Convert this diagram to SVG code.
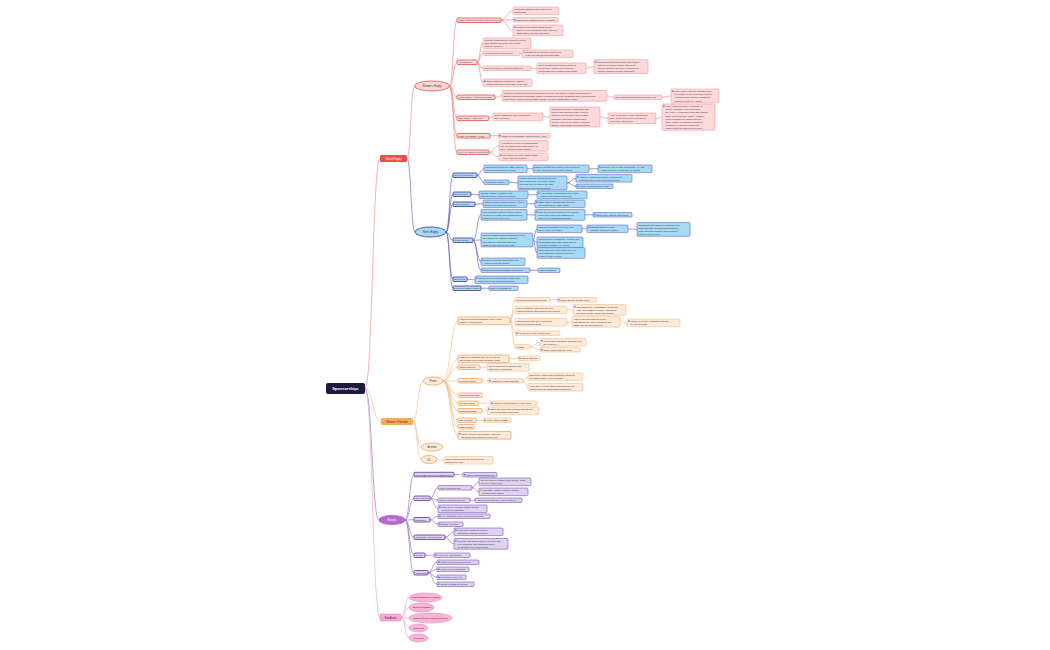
<svg xmlns="http://www.w3.org/2000/svg" width="1050" height="650" viewBox="0 0 1050 650">
<style>
text{font-family:"Liberation Sans",Arial,sans-serif;font-size:2.3px;fill:#333}
.b{stroke-width:.6}
.wr .b{fill:#fddada;stroke:#f29a9a}
.wr .b2{fill:#fddada;stroke:#e84a4a;stroke-width:.8}
.mr .b{fill:#a6dbf6;stroke:#6d5fc4}
.mr .b2{fill:#a6dbf6;stroke:#4a2f9e;stroke-width:.8}
.wf .b{fill:#feead8;stroke:#f7bb85}
.wf .b2{fill:#feead8;stroke:#f3a660;stroke-width:.8}
.ev .b{fill:#ded2f0;stroke:#7a55b5}
.ev .b2{fill:#ded2f0;stroke:#5d3597;stroke-width:.8}
.fb .b{fill:#f8b3d7;stroke:#e48fbe;stroke-width:.6}
.ic{fill:#4a7ff0}
.io{fill:#f3a53a}
#connectors path{fill:none;stroke-width:.6}
.cwr{stroke:#f07b7b}
.cmr{stroke:#5e4fb8}
.cwf{stroke:#f6b57c}
.cev{stroke:#8a62c4}
.cfb{stroke:#ee9cc9}
.lab{text-anchor:middle;font-size:2.6px}
</style>
<rect width="1050" height="650" fill="#ffffff"/>
<g id="connectors">
<path class="cwr" d="M365 388.5C372.5 388.5 372.5 158.5 380 158.5"/>
<path class="cwf" d="M365 388.5C373 388.5 373 421.5 381 421.5"/>
<path class="cev" d="M365 388.5C372 388.5 372 520 379 520"/>
<path class="cfb" d="M365 388.5C372.5 388.5 372.5 617.5 380 617.5"/>
<path class="cwr" d="M407 158.5C410.75 158.5 410.75 86 414.5 86"/>
<path class="cmr" d="M407 158.5C411 158.5 411 232 415 232"/>
<path class="cwr" d="M449.5 86C453.25 86 453.25 20.25 457 20.25"/>
<path class="cwr" d="M449.5 86C453.25 86 453.25 62.25 457 62.25"/>
<path class="cwr" d="M449.5 86C453.25 86 453.25 97.25 457 97.25"/>
<path class="cwr" d="M449.5 86C453.25 86 453.25 118.25 457 118.25"/>
<path class="cwr" d="M449.5 86C453.25 86 453.25 135.75 457 135.75"/>
<path class="cwr" d="M449.5 86C453.25 86 453.25 152.25 457 152.25"/>
<path class="cwr" d="M501 20.25C507 20.25 507 10.8 513 10.8"/>
<path class="cwr" d="M501 20.25C507 20.25 507 19.75 513 19.75"/>
<path class="cwr" d="M501 20.25C507 20.25 507 30.35 513 30.35"/>
<path class="cwr" d="M477 62.25C480 62.25 480 43.35 483 43.35"/>
<path class="cwr" d="M477 62.25C480 62.25 480 53.25 483 53.25"/>
<path class="cwr" d="M477 62.25C480 62.25 480 68.25 483 68.25"/>
<path class="cwr" d="M477 62.25C480 62.25 480 82.8 483 82.8"/>
<path class="cwr" d="M520 53.25C521 53.25 521 53.8 522 53.8"/>
<path class="cwr" d="M531 68.25C534 68.25 534 68.35 537 68.35"/>
<path class="cwr" d="M586 68.35C590 68.35 590 66.6 594 66.6"/>
<path class="cwr" d="M495 97.25C498.5 97.25 498.5 95.85 502 95.85"/>
<path class="cwr" d="M607 95.85C610.5 95.85 610.5 97.25 614 97.25"/>
<path class="cwr" d="M662 97.25C666.5 97.25 666.5 96 671 96"/>
<path class="cwr" d="M489 118.25C491 118.25 491 116.8 493 116.8"/>
<path class="cwr" d="M543 116.8C546.5 116.8 546.5 117 550 117"/>
<path class="cwr" d="M600 117C604 117 604 118.35 608 118.35"/>
<path class="cwr" d="M656 118.35C659 118.35 659 117.1 662 117.1"/>
<path class="cwr" d="M490 135.75C494 135.75 494 135.75 498 135.75"/>
<path class="cwr" d="M489 152.25C494 152.25 494 145.85 499 145.85"/>
<path class="cwr" d="M489 152.25C494 152.25 494 156.8 499 156.8"/>
<path class="cmr" d="M446 232C449.5 232 449.5 175.25 453 175.25"/>
<path class="cmr" d="M446 232C449.5 232 449.5 194.25 453 194.25"/>
<path class="cmr" d="M446 232C449.5 232 449.5 204.25 453 204.25"/>
<path class="cmr" d="M446 232C449.5 232 449.5 240.25 453 240.25"/>
<path class="cmr" d="M446 232C449.5 232 449.5 279.25 453 279.25"/>
<path class="cmr" d="M446 232C449.5 232 449.5 288.25 453 288.25"/>
<path class="cmr" d="M477 175.25C480.5 175.25 480.5 168.8 484 168.8"/>
<path class="cmr" d="M477 175.25C480.5 175.25 480.5 182.25 484 182.25"/>
<path class="cmr" d="M527 168.8C530 168.8 530 168.8 533 168.8"/>
<path class="cmr" d="M589 168.8C593.5 168.8 593.5 168.8 598 168.8"/>
<path class="cmr" d="M509 182.25C513.5 182.25 513.5 182.9 518 182.9"/>
<path class="cmr" d="M567 182.9C571.5 182.9 571.5 178.3 576 178.3"/>
<path class="cmr" d="M567 182.9C571.5 182.9 571.5 186.25 576 186.25"/>
<path class="cmr" d="M471 194.25C475 194.25 475 194.8 479 194.8"/>
<path class="cmr" d="M528 194.8C532.5 194.8 532.5 194.8 537 194.8"/>
<path class="cmr" d="M475 204.25C479 204.25 479 203.8 483 203.8"/>
<path class="cmr" d="M527 203.8C531 203.8 531 203.8 535 203.8"/>
<path class="cmr" d="M473 240.25C477 240.25 477 214.85 481 214.85"/>
<path class="cmr" d="M473 240.25C477 240.25 477 240 481 240"/>
<path class="cmr" d="M473 240.25C477 240.25 477 261.8 481 261.8"/>
<path class="cmr" d="M473 240.25C477 240.25 477 270.25 481 270.25"/>
<path class="cmr" d="M527 214.85C531 214.85 531 214.85 535 214.85"/>
<path class="cmr" d="M585 214.85C589 214.85 589 214.75 593 214.75"/>
<path class="cmr" d="M533 240C535 240 535 228.8 537 228.8"/>
<path class="cmr" d="M533 240C535 240 535 242.35 537 242.35"/>
<path class="cmr" d="M533 240C535 240 535 253 537 253"/>
<path class="cmr" d="M582 228.8C584.5 228.8 584.5 228.8 587 228.8"/>
<path class="cmr" d="M628 228.8C632.5 228.8 632.5 229.4 637 229.4"/>
<path class="cmr" d="M530 270.25C534 270.25 534 270.25 538 270.25"/>
<path class="cmr" d="M467 279.25C471 279.25 471 279.8 475 279.8"/>
<path class="cmr" d="M481 288.25C485 288.25 485 288.25 489 288.25"/>
<path class="cwf" d="M413 421.5C418 421.5 418 381 423 381"/>
<path class="cwf" d="M413 421.5C417 421.5 417 447 421 447"/>
<path class="cwf" d="M413 421.5C417 421.5 417 459.5 421 459.5"/>
<path class="cwf" d="M437 459.5C440.5 459.5 440.5 460.3 444 460.3"/>
<path class="cwf" d="M443 381C450.5 381 450.5 320.8 458 320.8"/>
<path class="cwf" d="M443 381C450.5 381 450.5 358.8 458 358.8"/>
<path class="cwf" d="M443 381C450.5 381 450.5 367.25 458 367.25"/>
<path class="cwf" d="M443 381C450.5 381 450.5 380.75 458 380.75"/>
<path class="cwf" d="M443 381C450.5 381 450.5 395.25 458 395.25"/>
<path class="cwf" d="M443 381C450.5 381 450.5 403.25 458 403.25"/>
<path class="cwf" d="M443 381C450.5 381 450.5 410.75 458 410.75"/>
<path class="cwf" d="M443 381C450.5 381 450.5 420.25 458 420.25"/>
<path class="cwf" d="M443 381C450.5 381 450.5 426.75 458 426.75"/>
<path class="cwf" d="M443 381C450.5 381 450.5 435.3 458 435.3"/>
<path class="cwf" d="M510 320.8C512.5 320.8 512.5 299.75 515 299.75"/>
<path class="cwf" d="M510 320.8C512.5 320.8 512.5 309.8 515 309.8"/>
<path class="cwf" d="M510 320.8C512.5 320.8 512.5 322.3 515 322.3"/>
<path class="cwf" d="M510 320.8C512.5 320.8 512.5 333.25 515 333.25"/>
<path class="cwf" d="M510 320.8C512.5 320.8 512.5 346.75 515 346.75"/>
<path class="cwf" d="M550 299.75C553.5 299.75 553.5 299.75 557 299.75"/>
<path class="cwf" d="M567 309.8C570 309.8 570 309.85 573 309.85"/>
<path class="cwf" d="M567 322.3C569.5 322.3 569.5 321.85 572 321.85"/>
<path class="cwf" d="M620 321.85C623.5 321.85 623.5 322.8 627 322.8"/>
<path class="cwf" d="M530 346.75C535 346.75 535 342.3 540 342.3"/>
<path class="cwf" d="M530 346.75C535 346.75 535 349.75 540 349.75"/>
<path class="cwf" d="M509 358.8C513.5 358.8 513.5 358.25 518 358.25"/>
<path class="cwf" d="M480 367.25C483.5 367.25 483.5 367.3 487 367.3"/>
<path class="cwf" d="M482 380.75C485 380.75 485 380.75 488 380.75"/>
<path class="cwf" d="M523 380.75C525.5 380.75 525.5 376.8 528 376.8"/>
<path class="cwf" d="M523 380.75C525.5 380.75 525.5 387.3 528 387.3"/>
<path class="cwf" d="M478 403.25C484 403.25 484 403.25 490 403.25"/>
<path class="cwf" d="M482 410.75C484.5 410.75 484.5 410.8 487 410.8"/>
<path class="cwf" d="M476 420.25C479.5 420.25 479.5 420.25 483 420.25"/>
<path class="cev" d="M405 520C409.5 520 409.5 474.55 414 474.55"/>
<path class="cev" d="M405 520C409.5 520 409.5 498.25 414 498.25"/>
<path class="cev" d="M405 520C409.5 520 409.5 519.75 414 519.75"/>
<path class="cev" d="M405 520C409.5 520 409.5 537.25 414 537.25"/>
<path class="cev" d="M405 520C409.5 520 409.5 555.25 414 555.25"/>
<path class="cev" d="M405 520C409.5 520 409.5 572.75 414 572.75"/>
<path class="cev" d="M454 474.55C458.5 474.55 458.5 474.75 463 474.75"/>
<path class="cev" d="M430 498.25C434 498.25 434 487.75 438 487.75"/>
<path class="cev" d="M430 498.25C434 498.25 434 500.25 438 500.25"/>
<path class="cev" d="M430 498.25C434 498.25 434 508.8 438 508.8"/>
<path class="cev" d="M472 487.75C475.5 487.75 475.5 481.8 479 481.8"/>
<path class="cev" d="M472 487.75C475.5 487.75 475.5 491.8 479 491.8"/>
<path class="cev" d="M470 500.25C472.5 500.25 472.5 500.25 475 500.25"/>
<path class="cev" d="M430 519.75C434 519.75 434 516.25 438 516.25"/>
<path class="cev" d="M430 519.75C434 519.75 434 524.25 438 524.25"/>
<path class="cev" d="M445 537.25C449.5 537.25 449.5 531.8 454 531.8"/>
<path class="cev" d="M445 537.25C449.5 537.25 449.5 543.85 454 543.85"/>
<path class="cev" d="M425 555.25C429.5 555.25 429.5 555.25 434 555.25"/>
<path class="cev" d="M428 572.75C432.5 572.75 432.5 562.25 437 562.25"/>
<path class="cev" d="M428 572.75C432.5 572.75 432.5 569.25 437 569.25"/>
<path class="cev" d="M428 572.75C432.5 572.75 432.5 577.25 437 577.25"/>
<path class="cev" d="M428 572.75C432.5 572.75 432.5 584.25 437 584.25"/>
<path class="cfb" d="M401 617.5C405 617.5 405 597.5 409 597.5"/>
<path class="cfb" d="M401 617.5C405 617.5 405 607.5 409 607.5"/>
<path class="cfb" d="M401 617.5C405 617.5 405 618 409 618"/>
<path class="cfb" d="M401 617.5C405 617.5 405 628 409 628"/>
<path class="cfb" d="M401 617.5C405 617.5 405 638 409 638"/>
</g>

<g id="root"><rect x="326" y="383" width="39" height="11" rx="2" fill="#1d1b3c"/><text x="345.5" y="390" text-anchor="middle" style="font-size:4px;font-weight:bold;fill:#fff">Sponsorships</text></g>

<g id="world-rugby"><rect x="380" y="155" width="27" height="7" rx="1.5" fill="#f24b4b"/><text x="393.5" y="159.5" class="lab" style="font-size:2.8px;fill:#fff">World Rugby</text></g>
<g id="womens-fortitude"><rect x="381" y="418" width="32" height="7" rx="1.5" fill="#f7a95e"/><text x="397" y="422.5" class="lab" style="fill:#5a2e00">Women's Fortitude</text></g>
<g id="events"><ellipse cx="392" cy="520" rx="13" ry="4.6" fill="#b56bd0" stroke="#9a4fbb" stroke-width=".6"/><text x="392" y="521" class="lab" style="font-size:2.8px;fill:#fff">Events</text></g>
<g id="feedback"><rect x="380" y="614" width="21" height="7" rx="1.5" fill="#f6a8d2" stroke="#e48fbe" stroke-width=".6"/><text x="390.5" y="618.5" class="lab" style="fill:#4a2040">Feedback</text></g>

<g id="womens-rugby"><ellipse cx="432" cy="86" rx="17.5" ry="5" fill="#fddada" stroke="#e84a4a" stroke-width=".8"/><text x="432" y="87" class="lab">Women's Rugby</text></g>
<g id="mens-rugby"><ellipse cx="430.5" cy="232" rx="15.5" ry="5" fill="#a6dbf6" stroke="#4a2f9e" stroke-width=".8"/><text x="430.5" y="233" class="lab">Men's Rugby</text></g>

<g id="a1" class="wr"><rect class="b2" x="457" y="18" width="44" height="4.5" rx="1"/><text x="458.4" y="21.2">Rugby World Cup 2025 Women's Series</text></g>
<g id="a1a" class="wr"><rect class="b" x="513" y="7" width="46" height="7.6" rx="1"/><text x="514.4" y="10.2">Messaging approval from host union,<tspan x="514.4" dy="3.1">Dates 2025</tspan></text></g>
<g id="a1b" class="wr"><rect class="b" x="513" y="17.5" width="45" height="4.5" rx="1"/><rect class="ic" x="514.1" y="19" width="1.5" height="1.5"/><text x="516.4" y="20.7">Branding at Women's Super Leagues</text></g>
<g id="a1c" class="wr"><rect class="b" x="513" y="25" width="50" height="10.7" rx="1"/><rect class="ic" x="514.1" y="26.5" width="1.5" height="1.5"/><text x="516.4" y="28.2">Collateral and digital assets for the<tspan x="516.4" dy="3.1">group of venue sponsors (fans, players),</tspan><tspan x="516.4" dy="3.1">awareness of country and dates</tspan></text></g>
<g id="a2" class="wr"><rect class="b2" x="457" y="60" width="20" height="4.5" rx="1"/><text x="458.4" y="63.2">HP Pathways</text></g>
<g id="a2a" class="wr"><rect class="b" x="483" y="38" width="48" height="10.7" rx="1"/><text x="484.4" y="41.2">Promote at sponsored events for players,<tspan x="484.4" dy="3.1">fans and parents at the club events</tspan><tspan x="484.4" dy="3.1">(Link to Academy)</tspan></text></g>
<g id="a2b" class="wr"><rect class="b" x="483" y="51" width="37" height="4.5" rx="1"/><text x="484.4" y="54.2">Leverage wins of the Series</text></g>
<g id="a2b1" class="wr"><rect class="b" x="522" y="50" width="51" height="7.6" rx="1"/><rect class="io" x="523.1" y="51.5" width="1.5" height="1.5"/><text x="525.4" y="53.2">Infomercial for winners, linked to all<tspan x="525.4" dy="3.1">of the Olympic Dream Team 2024</tspan></text></g>
<g id="a2c" class="wr"><rect class="b" x="483" y="66" width="48" height="4.5" rx="1"/><text x="484.4" y="69.2">Partners build on Women's World Cup</text></g>
<g id="a2c1" class="wr"><rect class="b" x="537" y="63" width="49" height="10.7" rx="1"/><text x="538.4" y="66.2">Deals at Business Partners' Brand at<tspan x="538.4" dy="3.1">the Olympic Games and Women's</tspan><tspan x="538.4" dy="3.1">Premiership Development Team 2025</tspan></text></g>
<g id="a2c2" class="wr"><rect class="b" x="594" y="59.7" width="54" height="13.8" rx="1"/><rect class="ic" x="595.1" y="61.2" width="1.5" height="1.5"/><text x="597.4" y="62.9">Tournament has partnership with leading<tspan x="597.4" dy="3.1">national providers: fixtures, fan zones</tspan><tspan x="597.4" dy="3.1">and broadcast deals, more in agreement</tspan><tspan x="597.4" dy="3.1">with the National Olympic Committee</tspan></text></g>
<g id="a2d" class="wr"><rect class="b" x="483" y="79" width="49" height="7.6" rx="1"/><rect class="ic" x="484.1" y="80.5" width="1.5" height="1.5"/><text x="486.4" y="82.2">Small partners &amp; community: stalls at<tspan x="486.4" dy="3.1">games, food trucks and more in the club</tspan></text></g>
<g id="a3" class="wr"><rect class="b2" x="457" y="95" width="38" height="4.5" rx="1"/><text x="458.4" y="98.2">Partnerships - Product Showcase</text></g>
<g id="a3a" class="wr"><rect class="b" x="502" y="90.5" width="105" height="10.7" rx="1"/><text x="503.4" y="93.7">Product or brand placement at sponsored fixtures, with partner booths and sampling in<tspan x="503.4" dy="3.1">stadium concourses; showcase partner products during the broadcast and on social media,</tspan><tspan x="503.4" dy="3.1">linked to the Women's Premiership and the Olympic Games 2024 (Paris)</tspan></text></g>
<g id="a3b" class="wr"><rect class="b" x="614" y="95" width="48" height="4.5" rx="1"/><text x="615.4" y="98.2">Set out 2025 sponsorship tiers and fees</text></g>
<g id="a3c" class="wr"><rect class="b" x="671" y="89" width="48" height="13.8" rx="1"/><rect class="ic" x="672.1" y="90.5" width="1.5" height="1.5"/><text x="674.4" y="92.2">Gold / Silver / Bronze packages with<tspan x="674.4" dy="3.1">fixed base fee plus activation budget;</tspan><tspan x="674.4" dy="3.1">renewal option linked to results and</tspan><tspan x="674.4" dy="3.1">audience reach (TV, digital)</tspan></text></g>
<g id="a4" class="wr"><rect class="b2" x="457" y="116" width="32" height="4.5" rx="1"/><text x="458.4" y="119.2">Experiential - Team Talk</text></g>
<g id="a4a" class="wr"><rect class="b" x="493" y="113" width="50" height="7.6" rx="1"/><text x="494.4" y="116.2">Team registration and open training,<tspan x="494.4" dy="3.1">Q&amp;A and more</tspan></text></g>
<g id="a4b" class="wr"><rect class="b" x="550" y="107" width="50" height="20" rx="1"/><text x="551.4" y="110.2">Sponsors can host a 'Team Talk' with<tspan x="551.4" dy="3.1">players and coaches before fixtures;</tspan><tspan x="551.4" dy="3.1">includes meet &amp; greet, signed shirts,</tspan><tspan x="551.4" dy="3.1">hospitality and photo opportunities;</tspan><tspan x="551.4" dy="3.1">content captured for partner channels</tspan><tspan x="551.4" dy="3.1">and the World Rugby social accounts</tspan></text></g>
<g id="a4c" class="wr"><rect class="b" x="608" y="113" width="48" height="10.7" rx="1"/><text x="609.4" y="116.2">Apply in advance via the partnerships<tspan x="609.4" dy="3.1">team; limited places per tournament</tspan><tspan x="609.4" dy="3.1">(first come, first served)</tspan></text></g>
<g id="a4d" class="wr"><rect class="b" x="662" y="104" width="53" height="26.2" rx="1"/><rect class="ic" x="663.1" y="105.5" width="1.5" height="1.5"/><text x="665.4" y="107.2">Value: partners receive a package of<tspan x="665.4" dy="3.1">tickets, hospitality and branding at</tspan><tspan x="665.4" dy="3.1">the venue, a dedicated Team Talk session</tspan><tspan x="665.4" dy="3.1">and a content bundle (video + photos);</tspan><tspan x="665.4" dy="3.1">fees negotiated per market with the</tspan><tspan x="665.4" dy="3.1">union, based on audience and reach;</tspan><tspan x="665.4" dy="3.1">reporting of results provided after</tspan><tspan x="665.4" dy="3.1">each event to all partners (KPI pack)</tspan></text></g>
<g id="a5" class="wr"><rect class="b2" x="457" y="133.5" width="33" height="4.5" rx="1"/><text x="458.4" y="136.7">Rugby 7s Pasifika - Reps</text></g>
<g id="a5a" class="wr"><rect class="b" x="498" y="133.5" width="52" height="4.5" rx="1"/><rect class="ic" x="499.1" y="135" width="1.5" height="1.5"/><text x="501.4" y="136.7">Follow up on sponsors, grant winners, AWR</text></g>
<g id="a6" class="wr"><rect class="b2" x="457" y="150" width="32" height="4.5" rx="1"/><text x="458.4" y="153.2">WXV (3) Women's Overview</text></g>
<g id="a6a" class="wr"><rect class="b" x="499" y="140.5" width="49" height="10.7" rx="1"/><text x="500.4" y="143.7">All teams will receive kit sponsorship;<tspan x="500.4" dy="3.1">one-off funding from World Rugby for</tspan><tspan x="500.4" dy="3.1">travel, kit and medical support</tspan></text></g>
<g id="a6b" class="wr"><rect class="b" x="499" y="153" width="49" height="7.6" rx="1"/><rect class="ic" x="500.1" y="154.5" width="1.5" height="1.5"/><text x="502.4" y="156.2">Not eligible for brand rights outside<tspan x="502.4" dy="3.1">of the regional qualifiers</tspan></text></g>

<g id="b1" class="mr"><rect class="b2" x="453" y="173" width="24" height="4.5" rx="1"/><text x="454.4" y="176.2">Sevens Promotion</text></g>
<g id="b1a" class="mr"><rect class="b" x="484" y="165" width="43" height="7.6" rx="1"/><text x="485.4" y="168.2">Sponsor packages for HSBC Sevens<tspan x="485.4" dy="3.1">Series events and fan villages</tspan></text></g>
<g id="b1a1" class="mr"><rect class="b" x="533" y="165" width="56" height="7.6" rx="1"/><text x="534.4" y="168.2">Targeted at fans and families: ticket bundles,<tspan x="534.4" dy="3.1">on-site activations and digital content</tspan></text></g>
<g id="b1a2" class="mr"><rect class="b" x="598" y="165" width="54" height="7.6" rx="1"/><rect class="ic" x="599.1" y="166.5" width="1.5" height="1.5"/><text x="601.4" y="168.2">Quarterly KPI reports: attendance, TV and<tspan x="601.4" dy="3.1">social reach per event and per market</tspan></text></g>
<g id="b1b" class="mr"><rect class="b" x="484" y="180" width="25" height="4.5" rx="1"/><text x="485.4" y="183.2">Innovation Games</text></g>
<g id="b1b1" class="mr"><rect class="b" x="518" y="176" width="49" height="13.8" rx="1"/><text x="519.4" y="179.2">Partner with tech brands to trial new<tspan x="519.4" dy="3.1">fan experiences: AR replays, smart</tspan><tspan x="519.4" dy="3.1">ball data and live stats in the app;</tspan><tspan x="519.4" dy="3.1">pilot in two Sevens legs (2025)</tspan></text></g>
<g id="b1b1a" class="mr"><rect class="b" x="576" y="174.5" width="56" height="7.6" rx="1"/><rect class="ic" x="577.1" y="176" width="1.5" height="1.5"/><text x="579.4" y="177.7">Analyse results with partners, prepare the<tspan x="579.4" dy="3.1">business case for the full season rollout</tspan></text></g>
<g id="b1b1b" class="mr"><rect class="b" x="576" y="184" width="37" height="4.5" rx="1"/><rect class="ic" x="577.1" y="185.5" width="1.5" height="1.5"/><text x="579.4" y="187.2">Follow up with product leads</text></g>
<g id="b2" class="mr"><rect class="b2" x="453" y="192" width="18" height="4.5" rx="1"/><text x="454.4" y="195.2">Brand Pillars</text></g>
<g id="b2a" class="mr"><rect class="b" x="479" y="191" width="49" height="7.6" rx="1"/><text x="480.4" y="194.2">Integrity, passion, solidarity and<tspan x="480.4" dy="3.1">respect as core values for partners</tspan></text></g>
<g id="b2b" class="mr"><rect class="b" x="537" y="191" width="50" height="7.6" rx="1"/><rect class="ic" x="538.1" y="192.5" width="1.5" height="1.5"/><text x="540.4" y="194.2">Align partner campaigns to the pillars<tspan x="540.4" dy="3.1">and the RWC brand guidelines</tspan></text></g>
<g id="b3" class="mr"><rect class="b2" x="453" y="202" width="22" height="4.5" rx="1"/><text x="454.4" y="205.2">Men's Nations</text></g>
<g id="b3a" class="mr"><rect class="b" x="483" y="200" width="44" height="7.6" rx="1"/><text x="484.4" y="203.2">Nations Championship and the Autumn<tspan x="484.4" dy="3.1">Series: host union partnerships</tspan></text></g>
<g id="b3b" class="mr"><rect class="b" x="535" y="200" width="50" height="7.6" rx="1"/><rect class="ic" x="536.1" y="201.5" width="1.5" height="1.5"/><text x="538.4" y="203.2">Share fixture calendar and inventory<tspan x="538.4" dy="3.1">with partners (TV, LED, digital)</tspan></text></g>
<g id="b4" class="mr"><rect class="b2" x="453" y="238" width="20" height="4.5" rx="1"/><text x="454.4" y="241.2">Global Series</text></g>
<g id="b4a" class="mr"><rect class="b" x="481" y="209.5" width="46" height="10.7" rx="1"/><text x="482.4" y="212.7">Find out which partners want to renew,<tspan x="482.4" dy="3.1">expand or exit after RWC 2023 and set</tspan><tspan x="482.4" dy="3.1">priorities for the next cycle</tspan></text></g>
<g id="b4a1" class="mr"><rect class="b" x="535" y="209.5" width="50" height="10.7" rx="1"/><rect class="ic" x="536.1" y="211" width="1.5" height="1.5"/><text x="538.4" y="212.7">Renewal meetings with top-tier partners<tspan x="538.4" dy="3.1">before the end of Q2; proposals for</tspan><tspan x="538.4" dy="3.1">multi-year deals through to 2027</tspan></text></g>
<g id="b4a2" class="mr"><rect class="b" x="593" y="212.5" width="39" height="4.5" rx="1"/><rect class="ic" x="594.1" y="214" width="1.5" height="1.5"/><text x="596.4" y="215.7">Share deck with the sales team</text></g>
<g id="b4b" class="mr"><rect class="b" x="481" y="233.1" width="52" height="13.8" rx="1"/><text x="482.4" y="236.3">Launch a global series sponsorship model:<tspan x="482.4" dy="3.1">one partner per category across all</tspan><tspan x="482.4" dy="3.1">tournaments, with local activation</tspan><tspan x="482.4" dy="3.1">rights for host unions and clubs</tspan></text></g>
<g id="b4b1" class="mr"><rect class="b" x="537" y="225" width="45" height="7.6" rx="1"/><text x="538.4" y="228.2">Strategic categories: banking, auto,<tspan x="538.4" dy="3.1">airline, tech, beverages</tspan></text></g>
<g id="b4b1a" class="mr"><rect class="b" x="587" y="225" width="41" height="7.6" rx="1"/><rect class="ic" x="588.1" y="226.5" width="1.5" height="1.5"/><text x="590.4" y="228.2">Shortlist targets in each<tspan x="590.4" dy="3.1">category and agree owners</tspan></text></g>
<g id="b4b1b" class="mr"><rect class="b" x="637" y="222.5" width="53" height="13.8" rx="1"/><text x="638.4" y="225.7">Categories and rights are protected in all<tspan x="638.4" dy="3.1">host contracts; conflicts with stadium or</tspan><tspan x="638.4" dy="3.1">union sponsors must be cleared before</tspan><tspan x="638.4" dy="3.1">signing (legal review)</tspan></text></g>
<g id="b4b2" class="mr"><rect class="b" x="537" y="237" width="46" height="10.7" rx="1"/><text x="538.4" y="240.2">Pricing based on audience, markets and<tspan x="538.4" dy="3.1">benchmarks from other global sports</tspan><tspan x="538.4" dy="3.1">properties (football, F1, tennis)</tspan></text></g>
<g id="b4b3" class="mr"><rect class="b" x="537" y="247.6" width="48" height="10.7" rx="1"/><text x="538.4" y="250.8">Local activation: host unions may sell<tspan x="538.4" dy="3.1">non-competing categories and keep</tspan><tspan x="538.4" dy="3.1">a share of the revenue</tspan></text></g>
<g id="b4c" class="mr"><rect class="b" x="481" y="258" width="44" height="7.6" rx="1"/><rect class="ic" x="482.1" y="259.5" width="1.5" height="1.5"/><text x="484.4" y="261.2">Follow up on Series structure and<tspan x="484.4" dy="3.1">approval from the Board</tspan></text></g>
<g id="b4d" class="mr"><rect class="b" x="481" y="268" width="49" height="4.5" rx="1"/><rect class="ic" x="482.1" y="269.5" width="1.5" height="1.5"/><text x="484.4" y="271.2">Brand kit and best practice guidelines</text></g>
<g id="b4d1" class="mr"><rect class="b" x="538" y="268" width="22" height="4.5" rx="1"/><text x="539.4" y="271.2">Smart Practices</text></g>
<g id="b5" class="mr"><rect class="b2" x="453" y="277" width="14" height="4.5" rx="1"/><text x="454.2" y="280.2">Next Picks</text></g>
<g id="b5a" class="mr"><rect class="b" x="475" y="276" width="53" height="7.6" rx="1"/><rect class="ic" x="476.1" y="277.5" width="1.5" height="1.5"/><text x="478.4" y="279.2">Identify 5 new prospects per quarter and<tspan x="478.4" dy="3.1">pass them to the partnerships team</tspan></text></g>
<g id="b6" class="mr"><rect class="b2" x="453" y="286" width="28" height="4.5" rx="1"/><text x="454.4" y="289.2">Business Listing Awards</text></g>
<g id="b6a" class="mr"><rect class="b" x="489" y="286" width="29" height="4.5" rx="1"/><text x="490.4" y="289.2">Enter the awards list</text></g>

<g id="pivots"><ellipse cx="433" cy="381" rx="10" ry="4" fill="#feead8" stroke="#f3a660" stroke-width=".8"/><text x="433" y="382" class="lab">Pivots</text></g>
<g id="arsenal"><ellipse cx="432" cy="447" rx="11" ry="4" fill="#feead8" stroke="#f3a660" stroke-width=".8"/><text x="432" y="448" class="lab">Arsenal</text></g>
<g id="ol"><ellipse cx="429" cy="459.5" rx="8" ry="4" fill="#feead8" stroke="#f3a660" stroke-width=".8"/><text x="429" y="460.5" class="lab">OL</text></g>
<g id="ol-a" class="wf"><rect class="b" x="444" y="456.5" width="49" height="7.6" rx="1"/><text x="445.4" y="459.7">Some inquiries with OL partners to be<tspan x="445.4" dy="3.1">followed up in Q3</tspan></text></g>

<g id="p1" class="wf"><rect class="b2" x="458" y="317" width="52" height="7.6" rx="1"/><text x="459.4" y="320.2">Finances and Sponsorships: Player Links<tspan x="459.4" dy="3.1">and NTT Partnerships</tspan></text></g>
<g id="p1a" class="wf"><rect class="b" x="515" y="297.5" width="35" height="4.5" rx="1"/><text x="516.4" y="300.7">Review of past sponsor deals</text></g>
<g id="p1a1" class="wf"><rect class="b" x="557" y="297.5" width="40" height="4.5" rx="1"/><rect class="ic" x="558.1" y="299" width="1.5" height="1.5"/><text x="560.4" y="300.7">Share with the finance team</text></g>
<g id="p1b" class="wf"><rect class="b" x="515" y="306" width="52" height="7.6" rx="1"/><text x="516.4" y="309.2">Player feedback: interest in the deal,<tspan x="516.4" dy="3.1">requirements for appearances and content</tspan></text></g>
<g id="p1b1" class="wf"><rect class="b" x="573" y="304.5" width="53" height="10.7" rx="1"/><rect class="ic" x="574.1" y="306" width="1.5" height="1.5"/><text x="576.4" y="307.7">Commitment to 'Ambassador' (3 days per<tspan x="576.4" dy="3.1">year); fees based on profile, with bonus</tspan><tspan x="576.4" dy="3.1">for major events; review after season</tspan></text></g>
<g id="p1c" class="wf"><rect class="b" x="515" y="318.5" width="52" height="7.6" rx="1"/><text x="516.4" y="321.7">Sponsorships with Tier 1 clubs and<tspan x="516.4" dy="3.1">players' unions for 2025</tspan></text></g>
<g id="p1c1" class="wf"><rect class="b" x="572" y="316.5" width="48" height="10.7" rx="1"/><text x="573.4" y="319.7">Athlete and club partners for the<tspan x="573.4" dy="3.1">professional tier, with clear terms and</tspan><tspan x="573.4" dy="3.1">rights (NIL and appearances)</tspan></text></g>
<g id="p1c2" class="wf"><rect class="b" x="627" y="319" width="53" height="7.6" rx="1"/><rect class="ic" x="628.1" y="320.5" width="1.5" height="1.5"/><text x="630.4" y="322.2">Follow up on Tier 1 contracts and NDA<tspan x="630.4" dy="3.1">by end of month</tspan></text></g>
<g id="p1d" class="wf"><rect class="b" x="515" y="331" width="45" height="4.5" rx="1"/><rect class="ic" x="516.1" y="332.5" width="1.5" height="1.5"/><text x="518.4" y="334.2">Include fees in the partner pack</text></g>
<g id="p1e" class="wf"><rect class="b" x="515" y="344.5" width="15" height="4.5" rx="1"/><text x="516.4" y="347.7">Images</text></g>
<g id="p1e1" class="wf"><rect class="b" x="540" y="338.5" width="46" height="7.6" rx="1"/><rect class="ic" x="541.1" y="340" width="1.5" height="1.5"/><text x="543.4" y="341.7">Player photo shoots for sponsors and<tspan x="543.4" dy="3.1">the media kit</tspan></text></g>
<g id="p1e2" class="wf"><rect class="b" x="540" y="347.5" width="40" height="4.5" rx="1"/><rect class="ic" x="541.1" y="349" width="1.5" height="1.5"/><text x="543.4" y="350.7">Share images with the team</text></g>
<g id="p2" class="wf"><rect class="b2" x="458" y="355" width="51" height="7.6" rx="1"/><text x="459.4" y="358.2">Making an individual offer to each talent<tspan x="459.4" dy="3.1">and founder to leverage message rights</tspan></text></g>
<g id="p2a" class="wf"><rect class="b" x="518" y="356" width="22" height="4.5" rx="1"/><rect class="ic" x="519.1" y="357.5" width="1.5" height="1.5"/><text x="521.4" y="359.2">Talk to Councils</text></g>
<g id="p3" class="wf"><rect class="b2" x="458" y="365" width="22" height="4.5" rx="1"/><text x="459.4" y="368.2">Contact Stories</text></g>
<g id="p3a" class="wf"><rect class="b" x="487" y="363.5" width="42" height="7.6" rx="1"/><text x="488.4" y="366.7">Collect stories from athletes and<tspan x="488.4" dy="3.1">partners for campaigns</tspan></text></g>
<g id="p4" class="wf"><rect class="b2" x="458" y="378.5" width="24" height="4.5" rx="1"/><text x="459.4" y="381.7">Financial Issues</text></g>
<g id="p4a" class="wf"><rect class="b" x="488" y="378.5" width="35" height="4.5" rx="1"/><rect class="ic" x="489.1" y="380" width="1.5" height="1.5"/><text x="491.4" y="381.7">Funding or budget shortfall</text></g>
<g id="p4a1" class="wf"><rect class="b" x="528" y="373" width="55" height="7.6" rx="1"/><text x="529.4" y="376.2">Emergency budget agreed with the Board for<tspan x="529.4" dy="3.1">the 2025 season; review monthly</tspan></text></g>
<g id="p4a2" class="wf"><rect class="b" x="528" y="383.5" width="55" height="7.6" rx="1"/><text x="529.4" y="386.7">Alternative: revenue share with partners and<tspan x="529.4" dy="3.1">crowdfunding for grassroots programmes</tspan></text></g>
<g id="p5" class="wf"><rect class="b2" x="458" y="393" width="24" height="4.5" rx="1"/><text x="459.4" y="396.2">Championship Tags</text></g>
<g id="p6" class="wf"><rect class="b2" x="458" y="401" width="20" height="4.5" rx="1"/><text x="459.4" y="404.2">UK Team Tours</text></g>
<g id="p6a" class="wf"><rect class="b" x="490" y="401" width="47" height="4.5" rx="1"/><rect class="ic" x="491.1" y="402.5" width="1.5" height="1.5"/><text x="493.4" y="404.2">Follow up with teams for venue deals</text></g>
<g id="p7" class="wf"><rect class="b2" x="458" y="408.5" width="24" height="4.5" rx="1"/><text x="459.4" y="411.7">Regional Boards</text></g>
<g id="p7a" class="wf"><rect class="b" x="487" y="407" width="52" height="7.6" rx="1"/><rect class="ic" x="488.1" y="408.5" width="1.5" height="1.5"/><text x="490.4" y="410.2">Share the deck with Regional Boards and<tspan x="490.4" dy="3.1">ask for feedback and leads</tspan></text></g>
<g id="p8" class="wf"><rect class="b2" x="458" y="418" width="18" height="4.5" rx="1"/><text x="459.4" y="421.2">DEI Package</text></g>
<g id="p8a" class="wf"><rect class="b" x="483" y="418" width="28" height="4.5" rx="1"/><rect class="ic" x="484.1" y="419.5" width="1.5" height="1.5"/><text x="486.4" y="421.2">Follow latest updates</text></g>
<g id="p9" class="wf"><rect class="b2" x="458" y="424.5" width="16" height="4.5" rx="1"/><text x="459.4" y="427.7">OER Events</text></g>
<g id="p10" class="wf"><rect class="b2" x="458" y="431.5" width="53" height="7.6" rx="1"/><rect class="ic" x="459.1" y="433" width="1.5" height="1.5"/><text x="461.4" y="434.7">Menu, location and duration; share the<tspan x="461.4" dy="3.1">OL brand pack with the venue team</tspan></text></g>

<g id="e1" class="ev"><rect class="b2" x="414" y="472.3" width="40" height="4.5" rx="1"/><text x="415.4" y="475.5">SWT 2025 / Developer Engagement</text></g>
<g id="e1a" class="ev"><rect class="b" x="463" y="472.5" width="34" height="4.5" rx="1"/><rect class="ic" x="464.1" y="474" width="1.5" height="1.5"/><text x="466.4" y="475.7">Share proposal with Events</text></g>
<g id="e2" class="ev"><rect class="b2" x="414" y="496" width="16" height="4.5" rx="1"/><text x="415.4" y="499.2">ERT Gaming</text></g>
<g id="e2a" class="ev"><rect class="b" x="438" y="485.5" width="34" height="4.5" rx="1"/><text x="439.4" y="488.7">Lower Presentations</text></g>
<g id="e2a1" class="ev"><rect class="b" x="479" y="478" width="52" height="7.6" rx="1"/><text x="480.4" y="481.2">Review current feedback from launch, 'Stats<tspan x="480.4" dy="3.1">and Play' demo in Q1</tspan></text></g>
<g id="e2a2" class="ev"><rect class="b" x="479" y="488" width="49" height="7.6" rx="1"/><rect class="io" x="480.1" y="489.5" width="1.5" height="1.5"/><text x="482.4" y="491.2">Potentially reduce to smaller booths<tspan x="482.4" dy="3.1">at community games</tspan></text></g>
<g id="e2b" class="ev"><rect class="b" x="438" y="498" width="32" height="4.5" rx="1"/><text x="439.4" y="501.2">Digital Promotion Q1-Q2</text></g>
<g id="e2b1" class="ev"><rect class="b" x="475" y="498" width="47" height="4.5" rx="1"/><text x="476.4" y="501.2">Ask the team what they plan to achieve</text></g>
<g id="e2c" class="ev"><rect class="b" x="438" y="505" width="49" height="7.6" rx="1"/><rect class="ic" x="439.1" y="506.5" width="1.5" height="1.5"/><text x="441.4" y="508.2">Keep an eye on other sports' gaming<tspan x="441.4" dy="3.1">deals for benchmarks</tspan></text></g>
<g id="e3" class="ev"><rect class="b2" x="414" y="517.5" width="16" height="4.5" rx="1"/><text x="415.2" y="520.7">Hospitality</text></g>
<g id="e3a" class="ev"><rect class="b" x="438" y="514" width="52" height="4.5" rx="1"/><rect class="ic" x="439.1" y="515.5" width="1.5" height="1.5"/><text x="441.4" y="517.2">VIP Hospitality: Super Series Finals 2025</text></g>
<g id="e3b" class="ev"><rect class="b" x="438" y="522" width="25" height="4.5" rx="1"/><rect class="ic" x="439.1" y="523.5" width="1.5" height="1.5"/><text x="441.4" y="525.2">Update inventory</text></g>
<g id="e4" class="ev"><rect class="b2" x="414" y="535" width="31" height="4.5" rx="1"/><text x="415.4" y="538.2">Manchester Games 2025</text></g>
<g id="e4a" class="ev"><rect class="b" x="454" y="528" width="49" height="7.6" rx="1"/><rect class="ic" x="455.1" y="529.5" width="1.5" height="1.5"/><text x="457.4" y="531.2">Need more budget to create a<tspan x="457.4" dy="3.1">competitive sponsor presence</tspan></text></g>
<g id="e4b" class="ev"><rect class="b" x="454" y="538.5" width="54" height="10.7" rx="1"/><rect class="ic" x="455.1" y="540" width="1.5" height="1.5"/><text x="457.4" y="541.7">Currently discussing how we can take part<tspan x="457.4" dy="3.1">in all sessions; ask organisers about</tspan><tspan x="457.4" dy="3.1">the sponsor levels and pricing</tspan></text></g>
<g id="e5" class="ev"><rect class="b2" x="414" y="553" width="11" height="4.5" rx="1"/><text x="415.2" y="556.2">Venues</text></g>
<g id="e5a" class="ev"><rect class="b" x="434" y="553" width="36" height="4.5" rx="1"/><rect class="ic" x="435.1" y="554.5" width="1.5" height="1.5"/><text x="437.4" y="556.2">Venue site visit agenda</text></g>
<g id="e6" class="ev"><rect class="b2" x="414" y="570.5" width="14" height="4.5" rx="1"/><text x="415.2" y="573.7">Awareness</text></g>
<g id="e6a" class="ev"><rect class="b" x="437" y="560" width="42" height="4.5" rx="1"/><rect class="ic" x="438.1" y="561.5" width="1.5" height="1.5"/><text x="440.4" y="563.2">Digital screens and billboards</text></g>
<g id="e6b" class="ev"><rect class="b" x="437" y="567" width="32" height="4.5" rx="1"/><rect class="ic" x="438.1" y="568.5" width="1.5" height="1.5"/><text x="440.4" y="570.2">Follow up on campaigns</text></g>
<g id="e6c" class="ev"><rect class="b" x="437" y="575" width="29" height="4.5" rx="1"/><rect class="ic" x="438.1" y="576.5" width="1.5" height="1.5"/><text x="440.4" y="578.2">Research venue fees</text></g>
<g id="e6d" class="ev"><rect class="b" x="437" y="582" width="37" height="4.5" rx="1"/><rect class="ic" x="438.1" y="583.5" width="1.5" height="1.5"/><text x="440.4" y="585.2">Speak to artists for murals</text></g>

<g id="f1" class="fb"><ellipse class="b" cx="425.5" cy="597.5" rx="16.5" ry="4.5"/><text x="425.5" y="598.3" text-anchor="middle">Rating interaction on Board</text></g>
<g id="f2" class="fb"><ellipse class="b" cx="421.5" cy="607.5" rx="12.5" ry="4.5"/><text x="421.5" y="608.3" text-anchor="middle">Sponsor Logistics</text></g>
<g id="f3" class="fb"><ellipse class="b" cx="430.5" cy="618" rx="21.5" ry="5"/><text x="430.5" y="618.8" text-anchor="middle">Data Collection Through Partners</text></g>
<g id="f4" class="fb"><ellipse class="b" cx="418.5" cy="628" rx="9.5" ry="4"/><text x="418.5" y="628.8" text-anchor="middle">Debriefing</text></g>
<g id="f5" class="fb"><ellipse class="b" cx="418.5" cy="638" rx="9.5" ry="4"/><text x="418.5" y="638.8" text-anchor="middle">Reporting</text></g>
</svg>
